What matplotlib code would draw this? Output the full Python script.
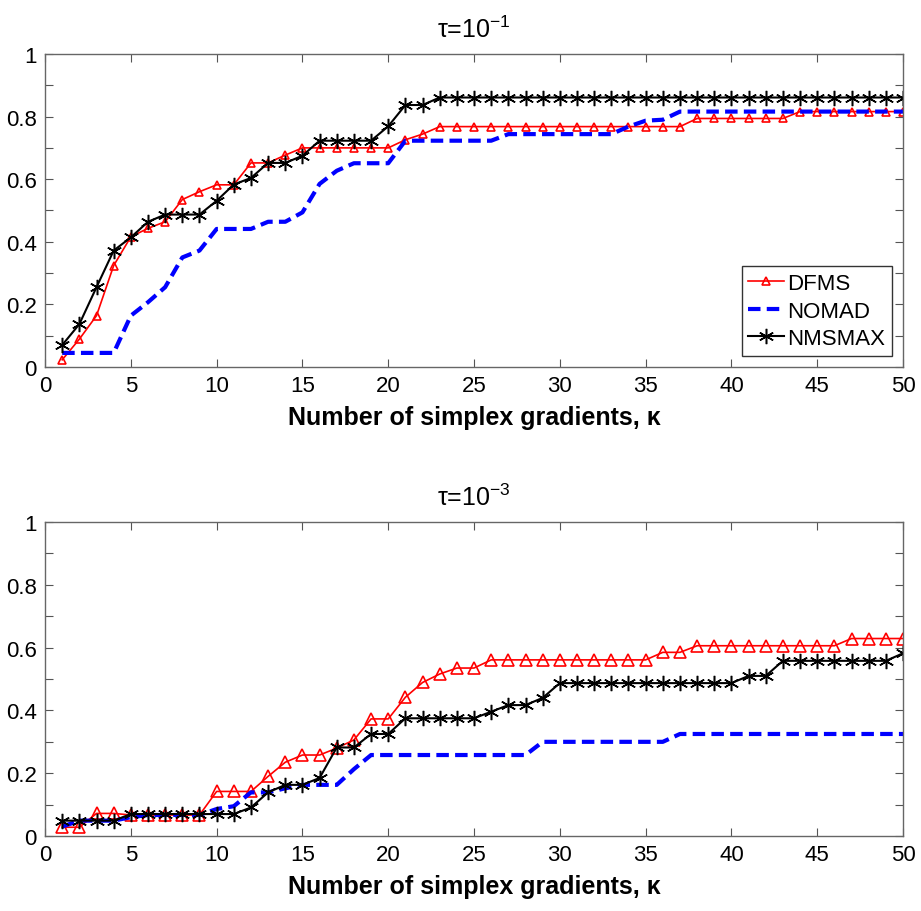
import numpy as np
import matplotlib
matplotlib.use("Agg")
import matplotlib.pyplot as plt

plt.rcParams["font.family"] = ["Liberation Sans", "DejaVu Sans"]
plt.rcParams["mathtext.fontset"] = "custom"
plt.rcParams["mathtext.rm"] = "Liberation Sans"
plt.rcParams["mathtext.it"] = "Liberation Sans"

# datos
kappa = np.arange(1, 51)

dfms_tau1 = [0.023, 0.089, 0.164, 0.324, 0.416, 0.443, 0.464, 0.535, 0.560, 0.582,
             0.582, 0.652, 0.652, 0.677, 0.700, 0.700, 0.700, 0.700, 0.700, 0.700,
             0.726, 0.744, 0.768, 0.768, 0.768, 0.768, 0.768, 0.768, 0.768, 0.768,
             0.768, 0.768, 0.768, 0.768, 0.768, 0.768, 0.768, 0.794, 0.794, 0.794,
             0.794, 0.794, 0.794, 0.816, 0.816, 0.816, 0.816, 0.816, 0.816, 0.816]
nomad_tau1 = [0.045, 0.045, 0.045, 0.045, 0.164, 0.207, 0.255, 0.350, 0.372, 0.441,
              0.441, 0.441, 0.464, 0.464, 0.494, 0.585, 0.627, 0.651, 0.651, 0.651,
              0.723, 0.723, 0.723, 0.723, 0.723, 0.723, 0.744, 0.744, 0.744, 0.744,
              0.744, 0.744, 0.744, 0.768, 0.787, 0.790, 0.816, 0.816, 0.816, 0.816,
              0.816, 0.816, 0.816, 0.816, 0.816, 0.816, 0.816, 0.816, 0.816, 0.816]
nmsmax_tau1 = [0.070, 0.137, 0.255, 0.372, 0.414, 0.464, 0.487, 0.487, 0.487, 0.531,
               0.583, 0.604, 0.652, 0.652, 0.675, 0.723, 0.723, 0.723, 0.723, 0.769,
               0.837, 0.837, 0.861, 0.861, 0.861, 0.861, 0.861, 0.861, 0.861, 0.861,
               0.861, 0.861, 0.861, 0.861, 0.861, 0.861, 0.861, 0.861, 0.861, 0.861,
               0.861, 0.861, 0.861, 0.861, 0.861, 0.861, 0.861, 0.861, 0.861, 0.861]

dfms_tau3 = [0.028, 0.028, 0.072, 0.072, 0.067, 0.067, 0.067, 0.067, 0.067, 0.142,
             0.142, 0.142, 0.190, 0.235, 0.258, 0.258, 0.280, 0.306, 0.373, 0.373,
             0.442, 0.489, 0.516, 0.535, 0.535, 0.561, 0.561, 0.561, 0.561, 0.561,
             0.561, 0.561, 0.561, 0.561, 0.561, 0.585, 0.585, 0.606, 0.606, 0.606,
             0.606, 0.606, 0.606, 0.606, 0.606, 0.606, 0.629, 0.629, 0.629, 0.629]
nomad_tau3 = [0.030, 0.049, 0.049, 0.049, 0.060, 0.067, 0.067, 0.067, 0.067, 0.086,
              0.095, 0.139, 0.139, 0.152, 0.163, 0.163, 0.163, 0.213, 0.258, 0.258,
              0.258, 0.258, 0.258, 0.258, 0.258, 0.258, 0.258, 0.258, 0.300, 0.300,
              0.300, 0.300, 0.300, 0.300, 0.300, 0.300, 0.325, 0.325, 0.325, 0.325,
              0.325, 0.325, 0.325, 0.325, 0.325, 0.325, 0.325, 0.325, 0.325, 0.325]
nmsmax_tau3 = [0.049, 0.049, 0.049, 0.049, 0.070, 0.070, 0.070, 0.070, 0.070, 0.070,
               0.070, 0.091, 0.139, 0.163, 0.163, 0.185, 0.282, 0.282, 0.325, 0.325,
               0.375, 0.375, 0.375, 0.375, 0.375, 0.396, 0.417, 0.417, 0.440, 0.487,
               0.487, 0.487, 0.487, 0.487, 0.487, 0.487, 0.487, 0.487, 0.487, 0.487,
               0.510, 0.510, 0.558, 0.558, 0.558, 0.558, 0.558, 0.558, 0.558, 0.582]

titles = [r"$\tau$=10$^{-1}$", r"$\tau$=10$^{-3}$"]
xlabel = "Number of simplex gradients, \u03ba"
yticks = np.arange(0, 1.01, 0.1)
ylabels = ["0", "", "0.2", "", "0.4", "", "0.6", "", "0.8", "", "1"]

fig = plt.figure(figsize=(9.21, 9.12), dpi=100)
ax1 = fig.add_axes([0.0489, 0.5965, 0.9316, 0.3432])
ax2 = fig.add_axes([0.0489, 0.0822, 0.9316, 0.3443])

# asterisco de 6 brazos como en matlab
asterisk = (6, 2, 0)

panels = [
  (ax1, dfms_tau1, nomad_tau1, nmsmax_tau1, titles[0], 6, 11),
  (ax2, dfms_tau3, nomad_tau3, nmsmax_tau3, titles[1], 9, 11),
]

for ax, dfms, nomad, nmsmax, title, ms_tri, ms_star in panels:
  ax.plot(kappa, dfms, color="red", lw=1.2, marker="^", ms=ms_tri,
          mfc="none", mec="red", mew=1.2, label="DFMS")
  ax.plot(kappa, nomad, color="blue", lw=3, ls=(0, (3, 1.5)), label="NOMAD")
  ax.plot(kappa, nmsmax, color="black", lw=1.5, marker=asterisk, ms=ms_star,
          mec="black", mew=1.1, label="NMSMAX")

  ax.set_xlim(0, 50)
  ax.set_ylim(0, 1)
  ax.set_xticks(np.arange(0, 51, 5))
  ax.set_yticks(yticks)
  ax.set_yticklabels(ylabels)
  ax.tick_params(direction="in", length=6, width=0.8, color="#555555",
                 labelsize=16, top=True, right=True, pad=6)
  for s in ax.spines.values():
    s.set_color("#666666")
    s.set_linewidth(1.0)
  ax.set_title(title, fontsize=18, pad=12)
  ax.set_xlabel(xlabel, fontsize=18, fontweight="bold", labelpad=6)

leg = ax1.legend(loc="lower right", fontsize=16, fancybox=False, edgecolor="black",
                 handlelength=1.6, handletextpad=0.15, borderpad=0.3,
                 labelspacing=0.3, borderaxespad=0.5)
leg.get_frame().set_linewidth(1.0)

fig.savefig("out.png", dpi=100)
